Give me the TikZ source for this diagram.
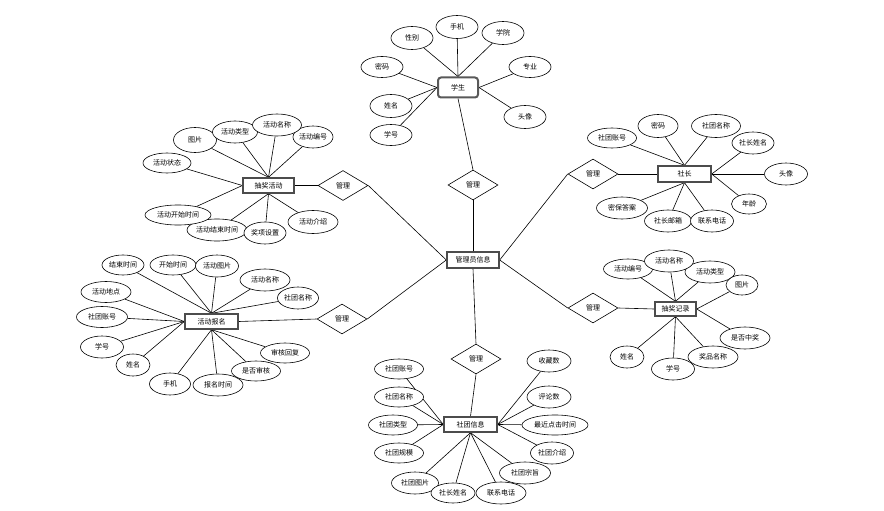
\documentclass[tikz,border=0pt]{standalone}
\usepackage{fontspec}
\setmainfont{Noto Sans CJK SC}
\usetikzlibrary{shapes.geometric}
\pgfdeclarelayer{background}
\pgfsetlayers{background,main}
\begin{document}
\begin{tikzpicture}[x=1pt,y=-1pt,
  every node/.style={font=\fontsize{7}{8}\selectfont, inner sep=0pt},
  attr/.style={draw, ellipse, fill=white, line width=0.6pt, minimum height=21pt},
  ent/.style={draw=black!70, rectangle, fill=white, line width=1.4pt, minimum height=15pt},
  rel/.style={draw, diamond, fill=white, line width=0.6pt, minimum width=50pt, minimum height=30pt},
  link/.style={line width=0.6pt}]
\useasboundingbox (0,0) rectangle (884,511);

% ---------- central ----------
\node[ent, minimum width=52pt, minimum height=16pt] (adm) at (473,260) {管理员信息};
\node[rel] (d1) at (473,185) {管理};
\node[rel] (d2) at (343,185.5) {管理};
\node[rel] (d3) at (593,174) {管理};
\node[rel] (d4) at (342,319) {管理};
\node[rel] (d5) at (593,308) {管理};
\node[rel] (d6) at (476,359) {管理};

% ---------- student ----------
\node[ent, draw=black!65, line width=2pt, rounded corners=3pt, minimum width=40pt, minimum height=20pt] (stu) at (458,87.5) {学生};
\node[attr, minimum width=42pt, minimum height=23pt] (s1) at (412,38) {性别};
\node[attr, minimum width=42pt, minimum height=23pt] (s2) at (457,27) {手机};
\node[attr, minimum width=42pt, minimum height=23pt] (s3) at (503,33) {学院};
\node[attr, minimum width=42pt] (s4) at (530,67) {专业};
\node[attr, minimum width=42pt, minimum height=23pt] (s5) at (525,117) {头像};
\node[attr, minimum width=42pt] (s6) at (382,67) {密码};
\node[attr, minimum width=42pt, minimum height=23pt] (s7) at (391,106) {姓名};
\node[attr, minimum width=42pt] (s8) at (391,135) {学号};

% ---------- 抽奖活动 ----------
\node[ent, minimum width=51pt] (cj) at (268.5,185.5) {抽奖活动};
\node[attr, minimum width=43pt, minimum height=25pt] (c1) at (195,140) {图片};
\node[attr, minimum width=45pt, minimum height=22pt] (c2) at (235,132) {活动类型};
\node[attr, minimum width=40pt, minimum height=22pt] (c4) at (313,137) {活动编号};
\node[attr, minimum width=49pt, minimum height=22pt] (c3) at (277,125) {活动名称};
\node[attr, minimum width=48pt, minimum height=20pt] (c5) at (167,163) {活动状态};
\node[attr, minimum width=60pt, minimum height=22pt] (c7) at (217,230) {活动结束时间};
\node[attr, minimum width=66pt, minimum height=20pt] (c6) at (178,215) {活动开始时间};
\node[attr, minimum width=42pt, minimum height=22pt] (c8) at (265,233) {奖项设置};
\node[attr, minimum width=50pt, minimum height=23pt] (c9) at (313,222) {活动介绍};

% ---------- 活动报名 ----------
\node[ent, minimum width=53pt] (bm) at (211.5,321.5) {活动报名};
\node[attr, minimum width=42pt, minimum height=20pt] (b1) at (123,265) {结束时间};
\node[attr, minimum width=46pt, minimum height=20pt] (b2) at (173,265) {开始时间};
\node[attr, minimum width=43pt, minimum height=22pt] (b3) at (217,266) {活动图片};
\node[attr, minimum width=50pt, minimum height=22pt] (b4) at (265,280) {活动名称};
\node[attr, minimum width=41pt, minimum height=22pt] (b5) at (298,298) {社团名称};
\node[attr, minimum width=50pt] (b6) at (106,292) {活动地点};
\node[attr, minimum width=51pt] (b7) at (102,317) {社团账号};
\node[attr, minimum width=43pt, minimum height=22pt] (b8) at (102,347) {学号};
\node[attr, minimum width=34pt, minimum height=22pt] (b9) at (133,365) {姓名};
\node[attr, minimum width=41pt, minimum height=22pt] (b10) at (170,384) {手机};
\node[attr, minimum width=50pt, minimum height=22pt] (b11) at (218,385) {报名时间};
\node[attr, minimum width=49pt, minimum height=20pt] (b13) at (285,353) {审核回复};
\node[attr, minimum width=49pt, minimum height=20pt] (b12) at (256,371) {是否审核};

% ---------- 社长 ----------
\node[ent, minimum width=53pt, minimum height=16pt] (sz) at (684.5,174) {社长};
\node[attr, minimum width=49pt, minimum height=20pt] (z1) at (612,138) {社团账号};
\node[attr, minimum width=40pt, minimum height=23pt] (z2) at (658,126) {密码};
\node[attr, minimum width=49pt, minimum height=23pt] (z3) at (716,126) {社团名称};
\node[attr, minimum width=42pt, minimum height=22pt] (z4) at (753,143) {社长姓名};
\node[attr, minimum width=43pt, minimum height=22pt] (z5) at (786,174) {头像};
\node[attr, minimum width=35pt, minimum height=20pt] (z6) at (749,204) {年龄};
\node[attr, minimum width=51pt, minimum height=22pt] (z9) at (622,208) {密保答案};
\node[attr, minimum width=47pt, minimum height=22pt] (z8) at (668,221) {社长邮箱};
\node[attr, minimum width=43pt, minimum height=22pt] (z7) at (712,221) {联系电话};

% ---------- 抽奖记录 ----------
\node[ent, minimum width=41pt, minimum height=14pt] (jl) at (675.5,309) {抽奖记录};
\node[attr, minimum width=49pt, minimum height=20pt] (j1) at (628,269) {活动编号};
\node[attr, minimum width=50pt, minimum height=22pt] (j3) at (710,272) {活动类型};
\node[attr, minimum width=49pt, minimum height=22pt] (j2) at (669,261) {活动名称};
\node[attr, minimum width=32pt, minimum height=20pt] (j4) at (742,285) {图片};
\node[attr, minimum width=50pt, minimum height=22pt] (j5) at (745,338) {是否中奖};
\node[attr, minimum width=34pt, minimum height=22pt] (j8) at (627,357) {姓名};
\node[attr, minimum width=43pt, minimum height=22pt] (j7) at (673,369) {学号};
\node[attr, minimum width=50pt, minimum height=22pt] (j6) at (713,357) {奖品名称};

% ---------- 社团信息 ----------
\node[ent, minimum width=53pt] (st) at (470.5,424.5) {社团信息};
\node[attr, minimum width=49pt, minimum height=20pt] (t1) at (399,369) {社团账号};
\node[attr, minimum width=49pt, minimum height=20pt] (t2) at (399,397) {社团名称};
\node[attr, minimum width=49pt, minimum height=20pt] (t3) at (393,425) {社团类型};
\node[attr, minimum width=49pt, minimum height=20pt] (t4) at (399,453) {社团规模};
\node[attr, minimum width=47pt, minimum height=22pt] (t5) at (415,483) {社团图片};
\node[attr, minimum width=44pt, minimum height=20pt] (t6) at (453,493) {社长姓名};
\node[attr, minimum width=50pt, minimum height=22pt] (t7) at (501,493) {联系电话};
\node[attr, minimum width=51pt, minimum height=22pt] (t8) at (525,473) {社团宗旨};
\node[attr, minimum width=43pt, minimum height=22pt] (t9) at (552,453) {社团介绍};
\node[attr, minimum width=66pt, minimum height=20pt] (t10) at (555,425) {最近点击时间};
\node[attr, minimum width=44pt, minimum height=22pt] (t11) at (549,397) {评论数};
\node[attr, minimum width=44pt, minimum height=22pt] (t12) at (549,361) {收藏数};

% ---------- connectors ----------
\begin{pgfonlayer}{background}
\draw[link] (stu.south) -- (d1.north);
\draw[link] (d1.south) -- (adm.north);
\draw[link] (d2.east) -- (adm.west);
\draw[link] (d4.east) -- (adm.west);
\draw[link] (d3.west) -- (adm.east);
\draw[link] (d5.west) -- (adm.east);
\draw[link] (d6.north) -- (adm.south);
\draw[link] (cj.east) -- (d2.west);
\draw[link] (bm.east) -- (d4.west);
\draw[link] (d3.east) -- (sz.west);
\draw[link] (d5.east) -- (jl.west);
\draw[link] (d6.south) -- (st.north);

\foreach \n in {s1,s2,s3} \draw[link] (\n) -- (stu.north);
\foreach \n in {s4,s5} \draw[link] (\n) -- (stu.east);
\foreach \n in {s6,s7,s8} \draw[link] (\n) -- (stu.west);

\foreach \n in {c1,c2,c3,c4} \draw[link] (\n) -- (cj.north);
\foreach \n in {c5,c6} \draw[link] (\n) -- (cj.west);
\foreach \n in {c7,c8,c9} \draw[link] (\n) -- (cj.south);

\foreach \n in {b1,b2,b3,b4,b5} \draw[link] (\n) -- (bm.north);
\foreach \n in {b6,b7,b8,b9} \draw[link] (\n) -- (bm.west);
\foreach \n in {b10,b11,b12,b13} \draw[link] (\n) -- (bm.south);

\foreach \n in {z1,z2,z3} \draw[link] (\n) -- (sz.north);
\foreach \n in {z4,z5,z6} \draw[link] (\n) -- (sz.east);
\foreach \n in {z7,z8,z9} \draw[link] (\n) -- (sz.south);

\foreach \n in {j1,j2,j3} \draw[link] (\n) -- (jl.north);
\foreach \n in {j4,j5} \draw[link] (\n) -- (jl.east);
\foreach \n in {j6,j7,j8} \draw[link] (\n) -- (jl.south);

\foreach \n in {t1,t2,t3,t4} \draw[link] (\n) -- (st.west);
\foreach \n in {t5,t6,t7,t8} \draw[link] (\n) -- (st.south);
\foreach \n in {t9,t10,t11,t12} \draw[link] (\n) -- (st.east);
\end{pgfonlayer}
\end{tikzpicture}
\end{document}
